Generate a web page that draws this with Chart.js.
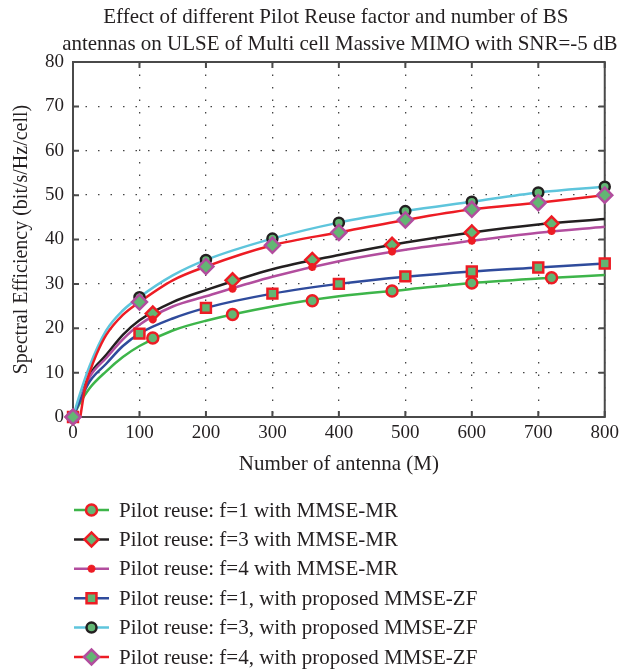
<!DOCTYPE html>
<html>
<head>
<meta charset="utf-8">
<script src="https://cdn.jsdelivr.net/npm/chart.js@4.4.1/dist/chart.umd.min.js"></script>
<style>
  html, body { margin: 0; padding: 0; background: #fff; }
  #wrap { width: 624px; height: 671px; position: relative; }
</style>
</head>
<body>
<div id="wrap"><canvas id="chart"></canvas></div>
<script>
  const SERIF = '"Liberation Serif", "DejaVu Serif", serif';

  const titleLines = [
    'Effect of different Pilot Reuse factor and number of BS',
    'antennas on ULSE of Multi cell Massive MIMO with SNR=-5 dB'
  ];
  const xTitle = 'Number of antenna (M)';
  const yTitle = 'Spectral Efficiency (bit/s/Hz/cell)';

  const seriesNames = [
    'Pilot reuse: f=1 with MMSE-MR',
    'Pilot reuse: f=3 with MMSE-MR',
    'Pilot reuse: f=4 with MMSE-MR',
    'Pilot reuse: f=1, with proposed MMSE-ZF',
    'Pilot reuse: f=3, with proposed MMSE-ZF',
    'Pilot reuse: f=4, with proposed MMSE-ZF'
  ];

  // fitted curves (smooth lines)
  const curveX = [0, 10, 25, 50, 75, 100, 150, 200, 300, 400, 500, 600, 700, 800];
  const curveF1MR = [0, 3, 6.5, 10.3, 13.5, 16, 19.5, 21.7, 24.9, 27.2, 28.7, 30.2, 31.2, 32.0];
  const curveF3MR = [0, 4, 9.5, 14, 18.5, 21.8, 25.9, 28.6, 33.3, 36.5, 39.3, 41.6, 43.4, 44.6];
  const curveF4MR = [0, 3.8, 9, 13.3, 17.5, 20.8, 24.9, 27.2, 31.6, 35.1, 37.7, 39.7, 41.5, 42.9];
  const curveF1ZF = [0, 3.5, 8, 12, 16, 18.8, 22.2, 24.6, 27.8, 30.0, 31.6, 32.8, 33.7, 34.6];
  const curveF3ZF = [0, 5, 11.5, 19.5, 24, 27.0, 31.9, 35.4, 40.2, 43.8, 46.4, 48.5, 50.6, 51.9];
  const curveF4ZFX = [11, 18, 25, 35, 50, 75, 100, 150, 200, 300, 400, 500, 600, 700, 800];
  const curveF4ZF = [0, 6.5, 10, 14, 18.5, 23, 25.9, 30.8, 33.9, 38.7, 41.6, 44.4, 46.8, 48.3, 50.0];

  // simulated points (markers)
  const mrMarkX = [0, 120, 240, 360, 480, 600, 720];
  const markF1MR = [0, 17.8, 23.1, 26.2, 28.4, 30.2, 31.4];
  const markF3MR = [0, 23.3, 30.8, 35.4, 38.8, 41.6, 43.6];
  const markF4MR = [0, 22.0, 28.9, 33.8, 37.3, 39.7, 41.9];
  const zfMarkX = [0, 100, 200, 300, 400, 500, 600, 700, 800];
  const markF1ZF = [0, 18.8, 24.6, 27.8, 30.0, 31.7, 32.8, 33.7, 34.6];
  const markF3ZF = [0, 27.0, 35.4, 40.2, 43.8, 46.4, 48.5, 50.6, 51.9];
  const markF4ZF = [0, 25.9, 33.9, 38.7, 41.6, 44.4, 46.8, 48.3, 50.0];

  const xTicks = [0, 100, 200, 300, 400, 500, 600, 700, 800];
  const yTicks = [0, 10, 20, 30, 40, 50, 60, 70, 80];

  const RED = '#ed1c24';
  const FILL = '#62b673';
  const MAGENTA = '#b24d9e';
  const INK = '#231f20';

  const styles = [
    { line: '#3db54a', point: 'circle',  radius: 5.5, border: RED,     fill: FILL, bw: 2.5 },
    { line: INK,       point: 'rectRot', radius: 7,   border: RED,     fill: FILL, bw: 2.5 },
    { line: MAGENTA,   point: 'star',    radius: 4,   border: RED,     fill: RED,  bw: 2.5 },
    { line: '#2f4b9c', point: 'rect',    radius: 7,   border: RED,     fill: FILL, bw: 2.5 },
    { line: '#5ec5dc', point: 'circle',  radius: 5,   border: INK,     fill: FILL, bw: 2.5 },
    { line: RED,       point: 'rectRot', radius: 7.5, border: MAGENTA, fill: FILL, bw: 2.5 }
  ];

  const curves = [
    [curveX, curveF1MR], [curveX, curveF3MR], [curveX, curveF4MR],
    [curveX, curveF1ZF], [curveX, curveF3ZF], [curveF4ZFX, curveF4ZF]
  ];
  const marks = [
    [mrMarkX, markF1MR], [mrMarkX, markF3MR], [mrMarkX, markF4MR],
    [zfMarkX, markF1ZF], [zfMarkX, markF3ZF], [zfMarkX, markF4ZF]
  ];

  const zip = (xs, ys) => xs.map((x, i) => ({ x: x, y: ys[i] }));

  const datasets = [];
  curves.forEach((c, i) => {
    datasets.push({
      label: seriesNames[i],
      data: zip(c[0], c[1]),
      borderColor: styles[i].line,
      borderWidth: 2.5,
      pointRadius: 0,
      cubicInterpolationMode: 'monotone',
      showLine: true,
      clip: false,
      order: 20 - i
    });
  });
  marks.forEach((m, i) => {
    const s = styles[i];
    datasets.push({
      label: seriesNames[i] + ' (points)',
      data: zip(m[0], m[1]),
      showLine: false,
      pointStyle: s.point,
      pointRadius: s.radius,
      pointBorderWidth: s.bw,
      pointBorderColor: s.border,
      pointBackgroundColor: s.fill,
      clip: false,
      order: 10 - i
    });
  });

  // title, axis box with inward ticks, and the legend below the axes
  const decorations = {
    id: 'decorations',
    beforeDatasetsDraw(chart) {
      const { ctx, chartArea: a, scales } = chart;
      ctx.save();
      ctx.strokeStyle = '#4a4a4a';
      ctx.lineWidth = 2;
      ctx.strokeRect(a.left, a.top, a.right - a.left, a.bottom - a.top);
      ctx.beginPath();
      xTicks.forEach(v => {
        const px = scales.x.getPixelForValue(v);
        ctx.moveTo(px, a.bottom); ctx.lineTo(px, a.bottom - 6);
        ctx.moveTo(px, a.top); ctx.lineTo(px, a.top + 6);
      });
      yTicks.forEach(v => {
        const py = scales.y.getPixelForValue(v);
        ctx.moveTo(a.left, py); ctx.lineTo(a.left + 6, py);
        ctx.moveTo(a.right, py); ctx.lineTo(a.right - 6, py);
      });
      ctx.stroke();
      ctx.restore();
    },
    afterDraw(chart) {
      const { ctx, chartArea: a } = chart;
      ctx.save();
      ctx.fillStyle = INK;
      ctx.font = '21px ' + SERIF;
      ctx.textAlign = 'center';
      ctx.textBaseline = 'middle';
      const cx = (a.left + a.right) / 2;
      ctx.fillText(titleLines[0], cx - 3, 17);
      ctx.fillText(titleLines[1], cx + 1, 44);

      ctx.textAlign = 'left';
      seriesNames.forEach((name, i) => {
        const s = styles[i];
        const y = 510 + i * 29.4;
        ctx.strokeStyle = s.line;
        ctx.lineWidth = 2.5;
        ctx.beginPath();
        ctx.moveTo(74, y); ctx.lineTo(109, y);
        ctx.stroke();
        ctx.fillStyle = s.fill;
        ctx.strokeStyle = s.border;
        ctx.lineWidth = s.bw;
        Chart.helpers.drawPoint(ctx, { pointStyle: s.point, radius: s.radius, rotation: 0, borderWidth: s.bw }, 91.5, y);
        ctx.fillStyle = INK;
        ctx.fillText(name, 119, y + 1);
      });
      ctx.restore();
    }
  };

  const grid = {
    color: '#444',
    lineWidth: 1.3,
    drawTicks: false
  };
  const dotted = { display: false, dash: [1.5, 11] };

  new Chart(document.getElementById('chart'), {
    type: 'line',
    data: { datasets: datasets },
    options: {
      responsive: true,
      maintainAspectRatio: false,
      animation: false,
      events: [],
      layout: { padding: { top: 62, right: 13, left: 0, bottom: 0 } },
      plugins: {
        legend: { display: false },
        title: { display: false },
        tooltip: { enabled: false }
      },
      scales: {
        x: {
          type: 'linear',
          min: 0,
          max: 800,
          afterFit: s => { s.height = 254; },
          afterBuildTicks: s => { s.ticks = xTicks.map(v => ({ value: v })); },
          ticks: { color: INK, font: { family: SERIF, size: 19 }, padding: 5, maxRotation: 0, autoSkip: false },
          grid: grid,
          border: dotted,
          title: {
            display: true,
            text: xTitle,
            color: INK,
            font: { family: SERIF, size: 21 },
            padding: { top: 0, bottom: 194 }
          }
        },
        y: {
          type: 'linear',
          min: 0,
          max: 80,
          afterFit: s => { s.width = 73; },
          afterBuildTicks: s => { s.ticks = yTicks.map(v => ({ value: v })); },
          ticks: { color: INK, font: { family: SERIF, size: 19 }, padding: 9 },
          grid: grid,
          border: dotted,
          title: {
            display: true,
            text: yTitle,
            color: INK,
            font: { family: SERIF, size: 20 },
            padding: { top: 10, bottom: 0 }
          }
        }
      }
    },
    plugins: [decorations]
  });
</script>
</body>
</html>
